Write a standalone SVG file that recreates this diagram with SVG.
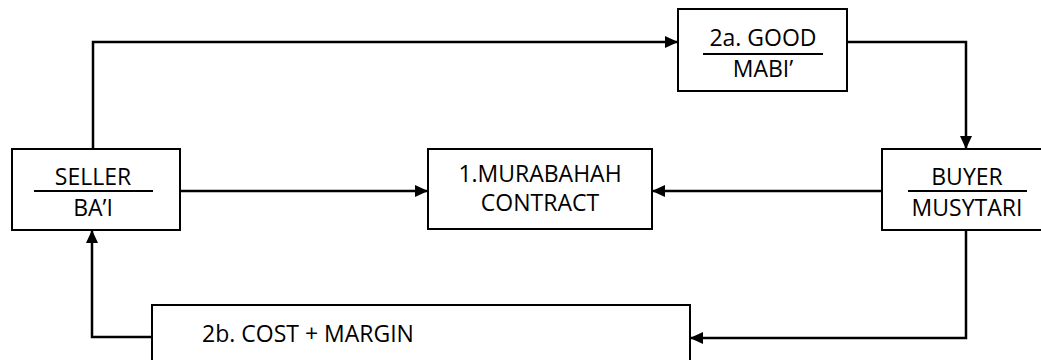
<svg xmlns="http://www.w3.org/2000/svg" width="1041" height="360" viewBox="0 0 1041 360">
<defs>
<style>
.box{fill:#fff;stroke:#000;stroke-width:2}
.t{font-family:"Open Sans","Noto Sans",Lato,sans-serif;font-size:23px;fill:#000;text-anchor:middle}
.ul{stroke:#000;stroke-width:2}
.c{fill:none;stroke:#000;stroke-width:2.5}
</style>
<marker id="ah" markerUnits="userSpaceOnUse" markerWidth="14" markerHeight="12" refX="13" refY="6" orient="auto">
<path d="M0,0 L13,6 L0,12 z" fill="#000"/>
</marker>
</defs>
<rect width="1041" height="360" fill="#fff"/>
<g id="connectors">
<path class="c" d="M93,149 V42 H678" marker-end="url(#ah)"/>
<path class="c" d="M847,42 H966 V149" marker-end="url(#ah)"/>
<path class="c" d="M180,191 H428" marker-end="url(#ah)"/>
<path class="c" d="M882,191 H652" marker-end="url(#ah)"/>
<path class="c" d="M966,230 V338 H690" marker-end="url(#ah)"/>
<path class="c" d="M152,337 H92 V230" marker-end="url(#ah)"/>
</g>
<g id="seller">
<rect class="box" x="12" y="149" width="168" height="81"/>
<text class="t" x="93" y="185">SELLER</text>
<line class="ul" x1="34" y1="191" x2="153" y2="191"/>
<text class="t" x="93" y="216">BA’I</text>
</g>
<g id="good">
<rect class="box" x="678" y="9" width="169" height="82"/>
<text class="t" x="763" y="46">2a. GOOD</text>
<line class="ul" x1="703" y1="54" x2="823" y2="54"/>
<text class="t" x="763" y="77">MABI’</text>
</g>
<g id="contract">
<rect class="box" x="428" y="149" width="224" height="80"/>
<text class="t" x="540" y="182">1.MURABAHAH</text>
<text class="t" x="540" y="211">CONTRACT</text>
</g>
<g id="buyer">
<rect class="box" x="882" y="149" width="170" height="81"/>
<text class="t" x="967" y="185">BUYER</text>
<line class="ul" x1="908" y1="191" x2="1027" y2="191"/>
<text class="t" x="967" y="216">MUSYTARI</text>
</g>
<g id="cost">
<rect class="box" x="152" y="305" width="538" height="70"/>
<text class="t" x="308" y="342">2b. COST + MARGIN</text>
</g>
</svg>
